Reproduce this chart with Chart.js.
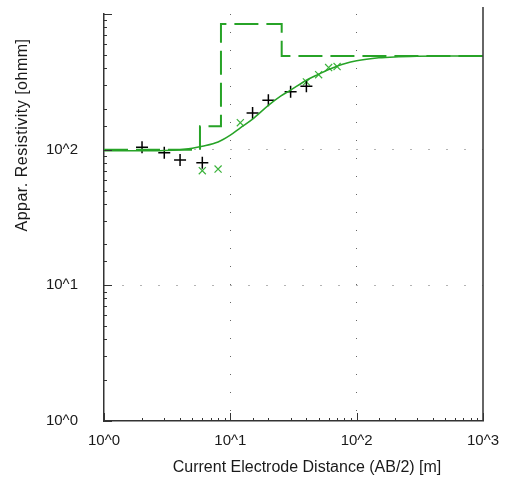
<!DOCTYPE html>
<html>
<head>
<meta charset="utf-8">
<script src="https://cdn.jsdelivr.net/npm/chart.js@4/dist/chart.umd.min.js"></script>
<style>
  html, body { margin: 0; padding: 0; background: #fff; }
  #wrap { width: 507px; height: 485px; }
</style>
</head>
<body>
<div id="wrap"><canvas id="c" width="507" height="485"></canvas></div>
<script>
// ---- data ----
const xTitle = 'Current Electrode Distance (AB/2) [m]';
const yTitle = 'Appar. Resistivity [ohmm]';
const axisMin = 1;
const axisMax = 1000;

// layered model (step line): layer bottom depths and resistivities
const layerDepths = [5.75, 8.43, 25.5];
const layerRho = [100, 149, 843, 490];

// model response curve
const curveX = [1, 2, 3, 4, 5, 6, 8, 10, 12, 15, 20, 25, 30, 40, 50, 60, 70, 80, 100, 150, 200, 300, 500, 1000];
const curveY = [98, 98, 98.5, 100, 102.5, 106, 114, 128, 145, 168, 212, 248, 275, 325, 360, 390, 412, 430, 452, 475, 483, 488, 490, 490];

// measured data (black +)
const measX = [2, 3, 4, 6, 15, 20, 30, 40];
const measY = [104, 95, 84, 80, 186, 231, 267, 294];

// second data set (green x)
const otherX = [6, 8, 12, 40, 50, 60, 70];
const otherY = [70, 72, 158, 316, 357, 403, 410];

const GREEN = '#27a327';
const FONT = '"Liberation Sans", Arial, sans-serif';

// ---- build datasets ----
const stepPts = [];
stepPts.push({x: axisMin, y: layerRho[0]});
layerDepths.forEach((d, i) => stepPts.push({x: d, y: layerRho[i + 1]}));
stepPts.push({x: axisMax, y: layerRho[layerRho.length - 1]});

const curvePts = curveX.map((x, i) => ({x, y: curveY[i]}));
const measPts = measX.map((x, i) => ({x, y: measY[i]}));
const otherPts = otherX.map((x, i) => ({x, y: otherY[i]}));

function isPow10(v) {
  const l = Math.log10(v);
  return Math.abs(l - Math.round(l)) < 1e-9;
}
function powLabel(v) {
  return isPow10(v) ? '10^' + Math.round(Math.log10(v)) : '';
}
function gridColor(ctx) {
  const v = ctx.tick && ctx.tick.value;
  if (v === undefined) return 'rgba(0,0,0,0)';
  return (isPow10(v) && v > axisMin && v < axisMax) ? '#666' : 'rgba(0,0,0,0)';
}

const decorations = {
  id: 'decorations',
  afterDraw(chart) {
    const {ctx, chartArea: a} = chart;
    ctx.save();
    // right border
    ctx.strokeStyle = '#333';
    ctx.lineWidth = 1.5;
    ctx.beginPath();
    ctx.moveTo(a.right, a.top - 7);
    ctx.lineTo(a.right, a.bottom);
    ctx.stroke();
    // inward ticks
    ctx.lineWidth = 1;
    ctx.strokeStyle = '#333';
    const xs = chart.scales.x, ys = chart.scales.y;
    xs.ticks.forEach(t => {
      const p = Math.round(xs.getPixelForValue(t.value)) + 0.5;
      const len = isPow10(t.value) ? 8 : 3;
      ctx.beginPath();
      ctx.moveTo(p, a.bottom);
      ctx.lineTo(p, a.bottom - len);
      ctx.stroke();
    });
    ys.ticks.forEach(t => {
      const p = Math.round(ys.getPixelForValue(t.value)) + 0.5;
      const len = isPow10(t.value) ? 8 : 3;
      ctx.beginPath();
      ctx.moveTo(a.left, p);
      ctx.lineTo(a.left + len, p);
      ctx.stroke();
    });
    // axis titles
    ctx.fillStyle = '#1a1a1a';
    ctx.textAlign = 'center';
    ctx.textBaseline = 'middle';
    ctx.font = '16px ' + FONT;
    ctx.fillText(xTitle, a.left + 203, a.bottom + 47);
    ctx.translate(23, a.top + 121);
    ctx.rotate(-Math.PI / 2);
    ctx.font = '16px ' + FONT;
    try { ctx.letterSpacing = '0.5px'; } catch (e) {}
    ctx.fillText(yTitle, 0, 0);
    ctx.restore();
  }
};

new Chart(document.getElementById('c'), {
  type: 'scatter',
  data: {
    datasets: [
      {
        label: 'model',
        data: stepPts,
        showLine: true,
        stepped: 'before',
        borderColor: GREEN,
        borderWidth: 2,
        borderDash: [24, 8],
        pointRadius: 0,
        fill: false
      },
      {
        label: 'response',
        data: curvePts,
        showLine: true,
        borderColor: GREEN,
        borderWidth: 1.5,
        pointRadius: 0,
        cubicInterpolationMode: 'monotone',
        fill: false
      },
      {
        label: 'measured',
        data: measPts,
        showLine: false,
        pointStyle: 'cross',
        pointRadius: 6,
        borderColor: '#000',
        backgroundColor: '#000',
        borderWidth: 1.5
      },
      {
        label: 'other',
        data: otherPts,
        showLine: false,
        pointStyle: 'crossRot',
        pointRadius: 5,
        borderColor: '#3cb33c',
        backgroundColor: '#3cb33c',
        borderWidth: 1.2
      }
    ]
  },
  options: {
    responsive: false,
    animation: false,
    layout: { padding: { left: 0, top: 14, right: 24, bottom: 0 } },
    plugins: { legend: { display: false }, tooltip: { enabled: false } },
    scales: {
      x: {
        type: 'logarithmic',
        min: axisMin,
        max: axisMax,
        afterFit(s) { s.height = 64; s.paddingLeft = 0; s.paddingRight = 0; },
        grid: { color: gridColor, lineWidth: 1, drawTicks: false },
        border: { display: true, color: '#333', width: 1.5, dash: [1, 17] },
        ticks: {
          autoSkip: false,
          maxRotation: 0,
          padding: 11,
          color: '#1a1a1a',
          font: { family: FONT, size: 15 },
          callback: (v) => powLabel(v)
        }
      },
      y: {
        type: 'logarithmic',
        min: axisMin,
        max: axisMax,
        afterFit(s) { s.width = 104; s.paddingTop = 0; s.paddingBottom = 0; },
        grid: { color: gridColor, lineWidth: 1, drawTicks: false },
        border: { display: true, color: '#333', width: 1.5, dash: [1, 17] },
        ticks: {
          autoSkip: false,
          padding: 26,
          color: '#1a1a1a',
          font: { family: FONT, size: 15 },
          callback: (v) => (v >= axisMax ? '' : powLabel(v))
        }
      }
    }
  },
  plugins: [decorations]
});
</script>
</body>
</html>
